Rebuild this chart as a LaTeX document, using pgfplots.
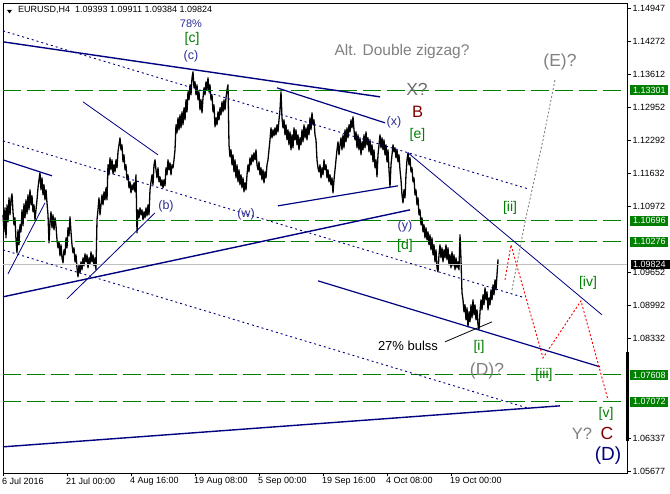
\documentclass[border=0pt]{standalone}
\usepackage{fontspec}
\setmainfont{Liberation Sans}
\usepackage{pgfplots}
\pgfplotsset{compat=1.18}
\definecolor{mtgreen}{RGB}{0,128,0}
\definecolor{mtnavy}{RGB}{0,0,128}
\definecolor{lblnavy}{RGB}{45,45,150}
\definecolor{mtgray}{RGB}{128,128,128}
\definecolor{mtred}{RGB}{128,0,0}
\definecolor{curgray}{RGB}{192,192,192}
\newcommand{\fs}[1]{\fontsize{#1}{#1}\selectfont}
\begin{document}
\begin{tikzpicture}
\begin{axis}[
  at={(3pt,21pt)}, anchor=south west,
  scale only axis, width=624pt, height=470pt,
  xmin=3, xmax=627, ymin=1.05647, ymax=1.15047,
  clip=false,
  axis line style={black, line width=0.9pt},
  tick align=outside,
  major tick length=3.5pt,
  tick style={black, line width=0.7pt},
  xtick={3,67,131,195,259,323,387,451},
  xticklabels={6 Jul 2016,21 Jul 00:00,4 Aug 16:00,19 Aug 08:00,5 Sep 00:00,19 Sep 16:00,4 Oct 08:00,19 Oct 00:00},
  xtick pos=bottom,
  ytick pos=right, yticklabel pos=right,
  ytick={1.14947,1.14272,1.13612,1.12952,1.12292,1.11632,1.10972,1.09652,1.08992,1.08332,1.06337,1.05677},
  yticklabels={1.14947,1.14272,1.13612,1.12952,1.12292,1.11632,1.10972,1.09652,1.08992,1.08332,1.06337,1.05677},
  xticklabel style={anchor=north west, inner sep=0pt, font=\fs{9}, xshift=-1pt, yshift=-1pt},
  yticklabel style={anchor=west, inner sep=0pt, font=\fs{9}, xshift=2pt},
]
% price path (H4 bars, approximated)
\addplot[black, line width=1.3pt, line join=round] coordinates {
(3,1.1081)(4,1.1047)(5,1.1095)(6,1.1035)(7,1.1101)(8,1.1067)(9,1.1115)(10,1.1081)(11,1.1111)(12,1.1123)(13,1.1087)(14,1.1061)(15,1.1075)(16,1.1031)(17,1.1005)(18,1.1051)(19,1.1021)(20,1.1061)(21,1.1047)(22,1.1091)(23,1.1059)(24,1.1103)(25,1.1075)(26,1.1111)(27,1.1083)(28,1.1121)(29,1.1091)(30,1.1131)(31,1.1101)(32,1.1119)(33,1.1087)(34,1.1101)(35,1.1071)(36,1.1091)(37,1.1111)(38,1.1135)(39,1.1151)(40,1.1165)(41,1.1131)(42,1.1155)(43,1.1121)(44,1.1141)(45,1.1111)(46,1.1131)(47,1.1105)(48,1.1081)(49,1.1025)(50,1.1067)
(51,1.1087)(52,1.1055)(53,1.1081)(54,1.1051)(55,1.1075)(56,1.1059)(57,1.1031)(58,1.1015)(59,1.1027)(60,1.0999)(61,1.1021)(62,1.0995)(63,1.0985)(64,1.1011)(65,1.1001)(66,1.1035)(67,1.1015)(68,1.1055)(69,1.1039)(70,1.1077)(71,1.1047)(72,1.1021)(73,1.1005)(74,1.1015)(75,1.0987)(76,1.1001)(77,1.0975)(78,1.0957)(79,1.0981)(80,1.0965)(81,1.0987)(82,1.0971)(83,1.0995)(84,1.0979)(85,1.1003)(86,1.0987)(87,1.1001)(88,1.0975)(89,1.0995)(90,1.0983)(91,1.1007)(92,1.0987)(93,1.1001)(94,1.0979)(95,1.0995)(96,1.0971)(97,1.1071)
(98,1.1091)(99,1.1115)(100,1.1081)(101,1.1101)(102,1.1121)(103,1.1101)(104,1.1127)(105,1.1111)(106,1.1135)(107,1.1111)(108,1.1181)(109,1.1161)(110,1.1195)(111,1.1171)(112,1.1191)(113,1.1163)(114,1.1181)(115,1.1167)(116,1.1191)(117,1.1175)(118,1.1207)(119,1.1221)(120,1.1235)(121,1.1211)(122,1.1221)(123,1.1187)(124,1.1201)(125,1.1171)(126,1.1181)(127,1.1151)(128,1.1161)(129,1.1135)(130,1.1147)(131,1.1125)(132,1.1141)(133,1.1131)(134,1.1145)(135,1.1127)(136,1.1161)(137,1.1045)(138,1.1091)(139,1.1075)(140,1.1095)(141,1.1081)(142,1.1091)(143,1.1071)(144,1.1087)(145,1.1075)(146,1.1095)(147,1.1079)(148,1.1101)(149,1.1081)(150,1.1131)
(151,1.1147)(152,1.1161)(153,1.1141)(154,1.1181)(155,1.1191)(156,1.1171)(157,1.1155)(158,1.1175)(159,1.1147)(160,1.1157)(161,1.1139)(162,1.1151)(163,1.1135)(164,1.1151)(165,1.1139)(166,1.1175)(167,1.1161)(168,1.1191)(169,1.1171)(170,1.1185)(171,1.1161)(172,1.1181)(173,1.1175)(174,1.1191)(175,1.1211)(176,1.1261)(177,1.1245)(178,1.1275)(179,1.1251)(180,1.1281)(181,1.1255)(182,1.1287)(183,1.1261)(184,1.1295)(185,1.1271)(186,1.1311)(187,1.1287)(188,1.1327)(189,1.1311)(190,1.1341)(191,1.1321)(192,1.1355)(193,1.1367)(194,1.1335)(195,1.1347)
(196,1.1321)(197,1.1341)(198,1.1311)(199,1.1327)(200,1.1291)(201,1.1311)(202,1.1285)(203,1.1315)(204,1.1335)(205,1.1321)(206,1.1347)(207,1.1331)(208,1.1355)(209,1.1327)(210,1.1341)(211,1.1311)(212,1.1321)(213,1.1287)(214,1.1301)(215,1.1257)(216,1.1275)(217,1.1261)(218,1.1287)(219,1.1271)(220,1.1295)(221,1.1281)(222,1.1307)(223,1.1287)(224,1.1311)(225,1.1291)(226,1.1315)(227,1.1331)(228,1.1341)(229,1.1221)(230,1.1197)
(231,1.1211)(232,1.1181)(233,1.1201)(234,1.1167)(235,1.1191)(236,1.1155)(237,1.1181)(238,1.1147)(239,1.1171)(240,1.1141)(241,1.1161)(242,1.1135)(243,1.1155)(244,1.1127)(245,1.1145)(246,1.1131)(247,1.1161)(248,1.1181)(249,1.1167)(250,1.1195)(251,1.1181)(252,1.1201)(253,1.1187)(254,1.1205)(255,1.1191)(256,1.1211)(257,1.1181)(258,1.1171)(259,1.1187)(260,1.1161)(261,1.1175)(262,1.1151)(263,1.1171)(264,1.1145)(265,1.1167)(266,1.1155)(267,1.1181)(268,1.1191)(269,1.1211)(270,1.1231)(271,1.1255)(272,1.1235)(273,1.1251)(274,1.1239)(275,1.1255)(276,1.1241)(277,1.1261)(278,1.1247)(279,1.1271)(280,1.1291)
(281,1.1327)(282,1.1275)(283,1.1255)(284,1.1271)(285,1.1241)(286,1.1261)(287,1.1231)(288,1.1251)(289,1.1221)(290,1.1247)(291,1.1211)(292,1.1241)(293,1.1215)(294,1.1255)(295,1.1231)(296,1.1251)(297,1.1221)(298,1.1241)(299,1.1211)(300,1.1235)(301,1.1221)(302,1.1251)(303,1.1227)(304,1.1261)(305,1.1235)(306,1.1255)(307,1.1231)(308,1.1261)(309,1.1241)(310,1.1275)(311,1.1251)(312,1.1285)(313,1.1261)(314,1.1271)(315,1.1241)(316,1.1231)(317,1.1191)(318,1.1175)(319,1.1167)(320,1.1181)(321,1.1155)(322,1.1175)(323,1.1161)(324,1.1191)(325,1.1171)(326,1.1181)(327,1.1155)(328,1.1171)(329,1.1147)(330,1.1161)(331,1.1141)(332,1.1155)(333,1.1125)(334,1.1151)(335,1.1171)(336,1.1191)(337,1.1211)(338,1.1227)(339,1.1201)(340,1.1221)
(341,1.1235)(342,1.1211)(343,1.1241)(344,1.1215)(345,1.1251)(346,1.1227)(347,1.1255)(348,1.1235)(349,1.1261)(350,1.1247)(351,1.1271)(352,1.1255)(353,1.1277)(354,1.1251)(355,1.1231)(356,1.1247)(357,1.1215)(358,1.1241)(359,1.1211)(360,1.1235)(361,1.1201)(362,1.1227)(363,1.1211)(364,1.1241)(365,1.1215)(366,1.1247)(367,1.1221)(368,1.1235)(369,1.1207)(370,1.1231)(371,1.1201)(372,1.1221)(373,1.1187)(374,1.1211)(375,1.1175)(376,1.1191)(377,1.1157)(378,1.1201)(379,1.1221)(380,1.1241)(381,1.1215)(382,1.1235)(383,1.1211)(384,1.1231)(385,1.1201)(386,1.1221)(387,1.1187)(388,1.1211)(389,1.1171)(390,1.1137)(391,1.1181)(392,1.1201)(393,1.1221)(394,1.1207)(395,1.1215)(396,1.1195)(397,1.1211)(398,1.1187)(399,1.1201)(400,1.1171)
(401,1.1151)(402,1.1121)(403,1.1105)(404,1.1131)(405,1.1115)(406,1.1161)(407,1.1191)(408,1.1205)(409,1.1181)(410,1.1195)(411,1.1167)(412,1.1175)(413,1.1147)(414,1.1155)(415,1.1121)(416,1.1131)(417,1.1101)(418,1.1115)(419,1.1081)(420,1.1091)(421,1.1061)(422,1.1075)(423,1.1047)(424,1.1061)(425,1.1035)(426,1.1055)(427,1.1031)(428,1.1047)(429,1.1021)(430,1.1041)(431,1.1011)(432,1.1035)(433,1.1001)(434,1.1021)(435,1.0987)(436,1.1011)(437,1.0975)(438,1.0967)(439,1.1001)(440,1.1021)(441,1.0995)(442,1.1015)(443,1.0987)(444,1.1011)(445,1.0995)(446,1.1021)(447,1.0991)(448,1.1015)(449,1.0981)(450,1.1001)(451,1.0975)(452,1.1007)(453,1.0979)(454,1.1001)(455,1.0971)(456,1.0995)(457,1.0975)(458,1.0987)(459,1.0971)(460,1.1041)
(461,1.0991)(462,1.0925)(463,1.0911)(464,1.0887)(465,1.0901)(466,1.0871)(467,1.0895)(468,1.0857)(469,1.0887)(470,1.0867)(471,1.0901)(472,1.0875)(473,1.0911)(474,1.0881)(475,1.0901)(476,1.0871)(477,1.0891)(478,1.0861)(479,1.0851)(480,1.0887)(481,1.0911)(482,1.0891)(483,1.0921)(484,1.0901)(485,1.0935)(486,1.0911)(487,1.0927)(488,1.0891)(489,1.0915)(490,1.0901)(491,1.0931)(492,1.0911)(493,1.0941)(494,1.0921)(495,1.0951)(496,1.0931)(497,1.0961)(498,1.0991)(498,1.0982)
};
% current price line
\addplot[curgray, line width=0.8pt] coordinates {(3,1.09824)(627,1.09824)};
% horizontal levels
\addplot[mtgreen, line width=1.1pt, dash pattern=on 18pt off 6pt] coordinates {(3,1.13301)(627,1.13301)};
\addplot[mtgreen, line width=1.1pt, dash pattern=on 18pt off 6pt] coordinates {(3,1.10696)(627,1.10696)};
\addplot[mtgreen, line width=1.1pt, dash pattern=on 18pt off 6pt] coordinates {(3,1.10276)(627,1.10276)};
\addplot[mtgreen, line width=1.1pt, dash pattern=on 18pt off 6pt] coordinates {(3,1.07608)(627,1.07608)};
\addplot[mtgreen, line width=1.1pt, dash pattern=on 18pt off 6pt] coordinates {(3,1.07072)(627,1.07072)};
% dotted channel lines
\addplot[mtnavy, line width=0.9pt, dash pattern=on 2pt off 3pt] coordinates {(3,1.1449)(528,1.1133)};
\addplot[mtnavy, line width=0.9pt, dash pattern=on 2pt off 3pt] coordinates {(3,1.1229)(525,1.0915)};
\addplot[mtnavy, line width=0.9pt, dash pattern=on 2pt off 3pt] coordinates {(3,1.1011)(527,1.0695)};
% solid trend lines
\addplot[mtnavy, line width=1.4pt] coordinates {(3,1.1427)(380,1.1317)};
\addplot[mtnavy, line width=1.2pt] coordinates {(3,1.1191)(52,1.1159)};
\addplot[mtnavy, line width=0.8pt] coordinates {(83,1.1307)(158,1.1201)};
\addplot[mtnavy, line width=0.8pt] coordinates {(8,1.0963)(45,1.1105)};
\addplot[mtnavy, line width=1.4pt] coordinates {(3,1.0917)(410,1.1091)};
\addplot[mtnavy, line width=0.8pt] coordinates {(67,1.0913)(155,1.1085)};
\addplot[mtnavy, line width=1.2pt] coordinates {(278,1.1099)(398,1.1139)};
\addplot[mtnavy, line width=1.2pt] coordinates {(277,1.1335)(385,1.1265)};
\addplot[mtnavy, line width=0.8pt] coordinates {(408,1.1205)(602,1.0881)};
\addplot[mtnavy, line width=1.2pt] coordinates {(318,1.0949)(600,1.0777)};
\addplot[mtnavy, line width=1.4pt] coordinates {(3,1.0617)(560,1.0699)};
\addplot[black, line width=0.8pt] coordinates {(445,1.0827)(492,1.0867)};
% projected paths
\addplot[mtgray, line width=0.9pt, dash pattern=on 2pt off 2pt] coordinates {(512,1.0931)(525,1.1067)(543,1.1231)(555,1.1351)};
\addplot[red, line width=0.9pt, dash pattern=on 2pt off 2pt] coordinates {(505,1.0951)(511,1.1021)(543,1.0795)(581,1.0909)(608,1.0711)};
% labels
\node[text=lblnavy, font=\fs{11}] at (axis cs:191,1.1463) {78\%};
\node[text=mtgreen, font=\fs{14}] at (axis cs:192,1.1433) {[c]};
\node[text=lblnavy, font=\fs{12.5}] at (axis cs:191,1.1399) {(c)};
\node[text=mtgray, font=\fs{15.5}] at (axis cs:402,1.1407) {Alt. Double zigzag?};
\node[text=mtgray, font=\fs{17.5}] at (axis cs:560,1.1387) {(E)?};
\node[text=mtgray!85!black, font=\fs{17.5}] at (axis cs:417,1.1331) {X?};
\node[text=mtred, font=\fs{16.5}] at (axis cs:417.5,1.1287) {B};
\node[text=mtgreen, font=\fs{14}] at (axis cs:417.5,1.1241) {[e]};
\node[text=lblnavy, font=\fs{12.5}] at (axis cs:394,1.1267) {(x)};
\node[text=lblnavy, font=\fs{12.5}] at (axis cs:166,1.1099) {(b)};
\node[text=lblnavy, font=\fs{12.5}] at (axis cs:246,1.1083) {(w)};
\node[text=lblnavy, font=\fs{12.5}] at (axis cs:405,1.1059) {(y)};
\node[text=mtgreen, font=\fs{14}] at (axis cs:405,1.1019) {[d]};
\node[text=mtgreen, font=\fs{14}] at (axis cs:510,1.1095) {[ii]};
\node[text=mtgreen, font=\fs{14}] at (axis cs:588,1.0945) {[iv]};
\node[text=mtgreen, font=\fs{14}] at (axis cs:479,1.0817) {[i]};
\node[text=black, font=\fs{13}] at (axis cs:408,1.0819) {27\% bulss};
\node[text=mtgray, font=\fs{17.5}] at (axis cs:487,1.0769) {(D)?};
\node[text=mtgreen, font=\fs{14}] at (axis cs:544,1.0761) {[iii]};
\node[text=mtgreen, font=\fs{14}] at (axis cs:606,1.0683) {[v]};
\node[text=mtgray, font=\fs{16.5}] at (axis cs:582,1.0643) {Y?};
\node[text=mtred, font=\fs{17.5}] at (axis cs:607,1.0643) {C};
\node[text=mtnavy, font=\fs{19}] at (axis cs:608,1.0599) {(D)};
% title
\fill[black] (axis cs:7,1.1491) -- (axis cs:12,1.1491) -- (axis cs:9.5,1.1484) -- cycle;
\node[anchor=west, inner sep=0pt, font=\fs{9}] at (axis cs:18,1.1490) {EURUSD,H4\ \ 1.09393 1.09911 1.09384 1.09824};
% price tags on the scale
\fill[mtgreen] ([xshift=2.5pt,yshift=-5pt]axis cs:627,1.13301) rectangle ([xshift=41pt,yshift=5pt]axis cs:627,1.13301);
\node[anchor=west, inner sep=0pt, text=white, font=\fs{9}] at ([xshift=6pt]axis cs:627,1.13301) {1.13301};
\fill[mtgreen] ([xshift=2.5pt,yshift=-5pt]axis cs:627,1.10696) rectangle ([xshift=41pt,yshift=5pt]axis cs:627,1.10696);
\node[anchor=west, inner sep=0pt, text=white, font=\fs{9}] at ([xshift=6pt]axis cs:627,1.10696) {1.10696};
\fill[mtgreen] ([xshift=2.5pt,yshift=-5pt]axis cs:627,1.10276) rectangle ([xshift=41pt,yshift=5pt]axis cs:627,1.10276);
\node[anchor=west, inner sep=0pt, text=white, font=\fs{9}] at ([xshift=6pt]axis cs:627,1.10276) {1.10276};
\fill[mtgreen] ([xshift=2.5pt,yshift=-5pt]axis cs:627,1.07608) rectangle ([xshift=41pt,yshift=5pt]axis cs:627,1.07608);
\node[anchor=west, inner sep=0pt, text=white, font=\fs{9}] at ([xshift=6pt]axis cs:627,1.07608) {1.07608};
\fill[mtgreen] ([xshift=2.5pt,yshift=-5pt]axis cs:627,1.07072) rectangle ([xshift=41pt,yshift=5pt]axis cs:627,1.07072);
\node[anchor=west, inner sep=0pt, text=white, font=\fs{9}] at ([xshift=6pt]axis cs:627,1.07072) {1.07072};
\fill[black] ([xshift=3.5pt,yshift=-4.5pt]axis cs:627,1.09824) rectangle ([xshift=43pt,yshift=4.5pt]axis cs:627,1.09824);
\node[anchor=west, inner sep=0pt, text=white, font=\fs{9}] at ([xshift=6pt]axis cs:627,1.09824) {1.09824};
\draw[black, line width=3pt] (axis cs:627.5,1.0807) -- (axis cs:627.5,1.0629);
\end{axis}
\pgfresetboundingbox
\path[use as bounding box] (0,0) rectangle (670pt,494pt);
\end{tikzpicture}
\end{document}
